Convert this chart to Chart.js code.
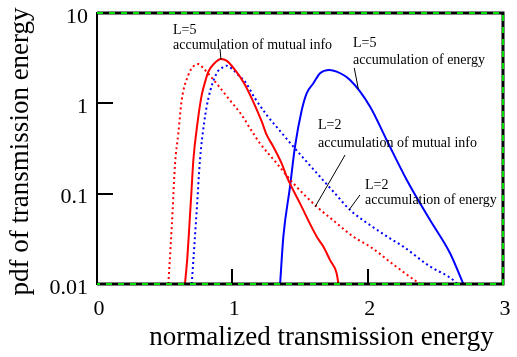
<!DOCTYPE html>
<html><head><meta charset="utf-8">
<script src="https://cdn.jsdelivr.net/npm/chart.js@4.4.0/dist/chart.umd.min.js"></script>
<style>html,body{margin:0;padding:0;background:#fff;overflow:hidden}canvas{display:block}</style>
</head><body>
<canvas id="c" width="517" height="357"></canvas>
<script>
// ---- data ----
const xTickValues = [0, 1, 2, 3];
const xTickLabels = ['0', '1', '2', '3'];
const yTickValues = [0.01, 0.1, 1, 10];
const yTickLabels = ['0.01', '0.1', '1', '10'];
const xTitle = 'normalized transmission energy';
const yTitle = 'pdf of transmission energy';

const seriesNames = ['L=5 accumulation of mutual info', 'L=2 accumulation of mutual info',
                     'L=2 accumulation of energy', 'L=5 accumulation of energy'];

// L=5, accumulation of mutual info (red solid)
const mi5X = [0.650, 0.668, 0.682, 0.697, 0.712, 0.744, 0.774, 0.800, 0.823, 0.870, 0.916, 0.960, 1.020, 1.094, 1.155, 1.217, 1.254, 1.303, 1.365, 1.402, 1.500, 1.624, 1.672, 1.722, 1.771, 1.784];
const mi5Y = [0.010, 0.020, 0.043, 0.100, 0.236, 0.63, 1.24, 1.75, 2.24, 2.80, 3.10, 2.95, 2.34, 1.60, 1.04, 0.63, 0.447, 0.331, 0.215, 0.154, 0.078, 0.0334, 0.026, 0.0184, 0.0131, 0.010];

// L=2, accumulation of mutual info (red dotted)
const mi2X = [0.527, 0.544, 0.559, 0.576, 0.601, 0.626, 0.675, 0.710, 0.749, 0.786, 0.872, 0.970, 1.069, 1.131, 1.204, 1.328, 1.451, 1.624, 1.750, 1.894, 2.018, 2.200, 2.363, 2.390];
const mi2Y = [0.010, 0.026, 0.066, 0.207, 0.466, 1.09, 2.06, 2.55, 2.72, 2.44, 1.74, 1.14, 0.743, 0.528, 0.361, 0.217, 0.130, 0.0718, 0.050, 0.0334, 0.0259, 0.016, 0.0106, 0.010];

// L=2, accumulation of energy (blue dotted)
const en2X = [0.700, 0.737, 0.761, 0.793, 0.823, 0.884, 0.920, 0.958, 1.000, 1.044, 1.094, 1.167, 1.254, 1.350, 1.451, 1.550, 1.648, 1.760, 1.870, 2.000, 2.165, 2.264, 2.450, 2.646, 2.660];
const en2Y = [0.010, 0.066, 0.236, 0.63, 1.14, 2.15, 2.45, 2.61, 2.40, 2.06, 1.74, 1.14, 0.743, 0.50, 0.331, 0.225, 0.154, 0.100, 0.0659, 0.0468, 0.032, 0.0259, 0.016, 0.0106, 0.010];

// L=5, accumulation of energy (blue solid)
const en5X = [1.353, 1.377, 1.426, 1.463, 1.513, 1.550, 1.599, 1.648, 1.717, 1.771, 1.870, 2.018, 2.140, 2.289, 2.461, 2.609, 2.707];
const en5Y = [0.010, 0.0334, 0.119, 0.331, 0.843, 1.30, 1.67, 2.15, 2.34, 2.24, 1.81, 0.918, 0.393, 0.142, 0.051, 0.0219, 0.010];

const annoTexts = [
  ['L=5', 'accumulation of mutual info'],
  ['L=5', 'accumulation of energy'],
  ['L=2', 'accumulation of mutual info'],
  ['L=2', 'accumulation of energy']
];

// ---- chart ----
const pts = (xs, ys) => xs.map((x, i) => ({x: x, y: ys[i]}));
const SERIF = "'Liberation Serif', 'Times New Roman', serif";

const annoPlacement = [
  {x: 0.562, y: [6.48, 4.42], leader: [[0.909, 3.99], [0.916, 3.05]]},
  {x: 1.892, y: [4.66, 3.02], leader: [[1.901, 2.46], [1.931, 1.44]]},
  {x: 1.633, y: [0.5755, 0.364], leader: [[1.833, 0.268], [1.611, 0.0712]]},
  {x: 1.980, y: [0.1247, 0.0851], leader: [[1.943, 0.0967], [1.862, 0.0659]]}
];

const framePlugin = {
  id: 'frame',
  afterDatasetsDraw(chart) {
    const {ctx, chartArea: a, scales: {x: xs, y: ys}} = chart;
    ctx.save();
    // annotations
    ctx.fillStyle = '#000';
    ctx.strokeStyle = '#000';
    ctx.lineWidth = 1;
    ctx.font = '14px ' + SERIF;
    ctx.textAlign = 'left';
    ctx.textBaseline = 'middle';
    annoPlacement.forEach((p, i) => {
      const px = xs.getPixelForValue(p.x);
      annoTexts[i].forEach((t, j) => ctx.fillText(t, px, ys.getPixelForValue(p.y[j])));
      ctx.beginPath();
      ctx.moveTo(xs.getPixelForValue(p.leader[0][0]), ys.getPixelForValue(p.leader[0][1]));
      ctx.lineTo(xs.getPixelForValue(p.leader[1][0]), ys.getPixelForValue(p.leader[1][1]));
      ctx.stroke();
    });
    // frame
    ctx.strokeStyle = '#000';
    ctx.lineWidth = 3;
    ctx.beginPath();
    ctx.moveTo(a.left, a.top); ctx.lineTo(a.right, a.top); ctx.lineTo(a.right, a.bottom); ctx.lineTo(a.left, a.bottom);
    ctx.stroke();
    ctx.lineWidth = 2;
    ctx.beginPath(); ctx.moveTo(a.left, a.top - 1); ctx.lineTo(a.left, a.bottom + 1); ctx.stroke();
    // inward ticks
    yTickValues.slice(1, -1).forEach(v => {
      const py = Math.round(ys.getPixelForValue(v));
      ctx.beginPath(); ctx.moveTo(a.left, py); ctx.lineTo(a.left + 16, py); ctx.stroke();
    });
    xTickValues.slice(1, -1).forEach(v => {
      const px = Math.round(xs.getPixelForValue(v));
      ctx.beginPath(); ctx.moveTo(px, a.bottom); ctx.lineTo(px, a.bottom - 15); ctx.stroke();
    });
    // green dashed overlay
    ctx.strokeStyle = '#00e000';
    ctx.lineWidth = 2;
    ctx.setLineDash([6, 6]);
    ctx.beginPath();
    ctx.moveTo(a.left, a.top); ctx.lineTo(a.right, a.top); ctx.lineTo(a.right, a.bottom); ctx.lineTo(a.left, a.bottom);
    ctx.stroke();
    ctx.setLineDash([]);
    // axis titles
    ctx.fillStyle = '#000';
    ctx.font = '27px ' + SERIF;
    ctx.textAlign = 'center';
    ctx.textBaseline = 'alphabetic';
    ctx.fillText(xTitle, 321.5, 345);
    ctx.translate(28, 151.5);
    ctx.rotate(-Math.PI / 2);
    ctx.fillText(yTitle, 0, 0);
    ctx.restore();
  }
};

const tickFont = {family: SERIF, size: 22};

new Chart(document.getElementById('c'), {
  type: 'line',
  data: {
    datasets: [
      {label: seriesNames[0], data: pts(mi5X, mi5Y), borderColor: '#ff0000', borderWidth: 2},
      {label: seriesNames[1], data: pts(mi2X, mi2Y), borderColor: '#ff0000', borderWidth: 2, borderDash: [2, 3]},
      {label: seriesNames[2], data: pts(en2X, en2Y), borderColor: '#0000ff', borderWidth: 2, borderDash: [2, 3]},
      {label: seriesNames[3], data: pts(en5X, en5Y), borderColor: '#0000ff', borderWidth: 2}
    ]
  },
  options: {
    responsive: false,
    animation: false,
    devicePixelRatio: 1,
    layout: {padding: {left: 0, top: 13, right: 14, bottom: 0}},
    elements: {point: {radius: 0}, line: {cubicInterpolationMode: 'monotone', fill: false}},
    plugins: {legend: {display: false}, tooltip: {enabled: false}},
    scales: {
      x: {
        type: 'linear', min: 0, max: 3,
        afterBuildTicks: s => { s.ticks = xTickValues.map(v => ({value: v})); },
        afterFit: s => { s.height = 73; s.paddingLeft = 0; s.paddingRight = 0; },
        grid: {display: false, drawTicks: false},
        border: {display: false},
        ticks: {font: tickFont, color: '#000', padding: 12, labelOffset: 2, maxRotation: 0,
                callback: v => xTickLabels[xTickValues.indexOf(v)]}
      },
      y: {
        type: 'logarithmic', min: 0.01, max: 10,
        afterBuildTicks: s => { s.ticks = yTickValues.map(v => ({value: v})); },
        afterFit: s => { s.width = 97; s.paddingTop = 0; s.paddingBottom = 0; },
        grid: {display: false, drawTicks: false},
        border: {display: false},
        ticks: {font: tickFont, color: '#000', padding: 9, labelOffset: 4,
                callback: v => yTickLabels[yTickValues.indexOf(v)]}
      }
    }
  },
  plugins: [framePlugin]
});
</script>
</body></html>
